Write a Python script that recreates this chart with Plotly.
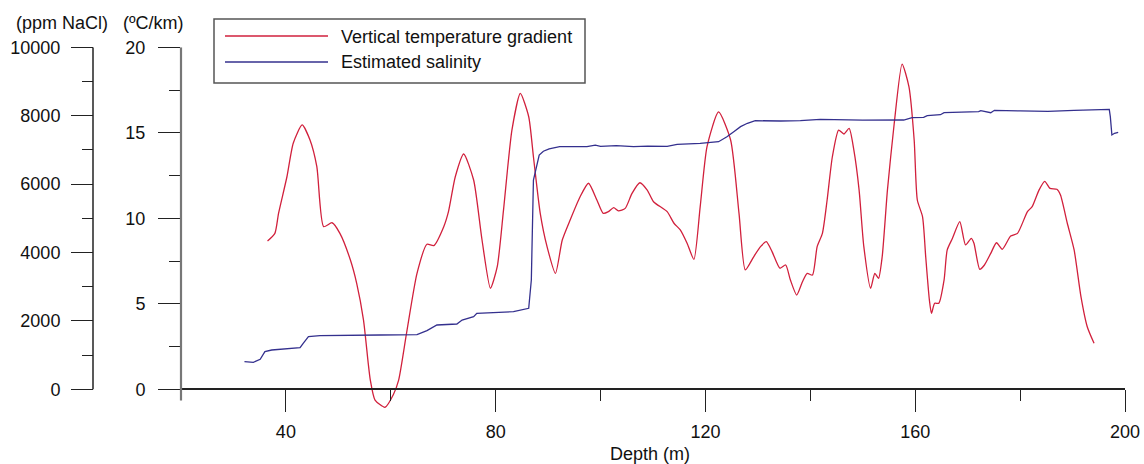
import plotly.graph_objects as go

# ---------------- data ----------------
grad_depth = [36.5, 37.9, 38.6, 40.2, 41.4, 43.1, 44.6, 45.9, 47.2, 48.8, 50.3, 52.3, 53.5, 54.8,
              55.7, 56.1, 57.0, 58.9, 60.5, 61.5, 63.0, 65.0, 66.9, 68.2, 70.1, 71.0, 72.3, 73.9,
              75.8, 77.4, 79.0, 80.3, 81.5, 83.1, 84.7, 86.3, 87.2, 88.5, 89.8, 91.4, 92.7, 94.2,
              96.1, 97.7, 99.3, 100.5, 101.5, 102.5, 103.4, 104.7, 106.0, 107.5, 108.9, 110.1,
              112.7, 114.0, 115.2, 116.5, 117.8, 119.0, 120.3, 122.5, 124.8, 126.4, 127.6, 129.2,
              130.5, 131.6, 132.7, 134.2, 135.3, 136.2, 137.4, 138.5, 139.4, 140.4, 141.3, 142.3,
              143.2, 144.2, 145.4, 146.4, 147.4, 148.3, 149.3, 150.2, 151.5, 152.3, 153.0, 153.7,
              154.7, 156.0, 157.5, 158.8, 159.8, 160.4, 161.4, 162.0, 162.7, 163.1, 163.7, 164.5,
              165.5, 166.1, 167.1, 168.5, 169.6, 170.7, 171.2, 172.3, 173.2, 174.4, 175.5, 176.6,
              178.2, 179.5, 181.4, 182.3, 183.6, 184.7, 185.7, 187.0, 187.7, 189.0, 190.3, 191.6,
              192.8, 194.1]
grad_value = [8.67, 9.12, 10.29, 12.43, 14.39, 15.46, 14.58, 13.02, 9.51, 9.74, 9.12, 7.56, 6.2, 4.05,
              1.52, 0.54, -0.63, -1.05, -0.3, 0.54, 3.27, 6.78, 8.48, 8.4, 9.51, 10.39, 12.43, 13.76,
              12.24, 8.73, 5.91, 7.17, 10.49, 15.16, 17.3, 15.94, 13.6, 10.29, 8.34, 6.78, 8.73, 9.9,
              11.26, 12.05, 11.07, 10.29, 10.39, 10.62, 10.44, 10.58, 11.46, 12.08, 11.65, 10.97,
              10.39, 9.71, 9.32, 8.54, 7.6, 10.68, 14.19, 16.22, 14.58, 10.29, 6.98, 7.75,
              8.34, 8.63, 8.05, 7.08, 7.27, 6.39, 5.51, 6.29, 6.78, 6.68, 8.34, 9.12,
              11.07, 13.6, 15.16, 14.93, 15.26, 13.99, 11.65, 8.34, 5.91, 6.78, 6.49, 7.75,
              11.65, 15.56, 19.02, 17.7, 14.58, 11.07, 10.09, 7.75, 5.22, 4.44, 5.03, 5.03,
              6.39, 8.15, 8.83, 9.8, 8.44, 8.83, 8.54, 7.02, 7.27, 7.95, 8.57, 8.19,
              8.96, 9.12, 10.39, 10.68, 11.65, 12.16, 11.75, 11.7, 11.36, 9.71, 8.15, 5.42,
              3.66, 2.69]

sal_depth = [32.1, 33.8, 35.1, 36.0, 37.3, 42.7, 43.3, 44.3, 46.5, 50.3, 58.0, 65.0, 66.9, 68.8,
             72.6, 73.6, 75.8, 76.4, 83.4, 86.3, 86.8, 87.2, 88.3, 89.1, 90.2, 92.2, 97.4, 99.0,
             100.0, 103.0, 106.3, 109.0, 112.7, 114.6, 119.0, 122.5, 124.1, 125.4, 126.7, 128.0,
             129.5, 134.3, 138.1, 141.9, 150.0, 157.8, 159.4, 161.6, 162.3, 164.8, 165.5, 172.1,
             172.5, 174.4, 175.1, 180.0, 185.3, 190.3, 197.0, 197.2, 197.5, 198.0, 198.7]
sal_value = [807, 790, 877, 1100, 1149, 1216, 1345, 1538, 1567, 1567, 1588, 1597, 1714, 1880,
             1909, 2026, 2123, 2222, 2269, 2368, 3196, 6120, 6851, 6960, 7030, 7094, 7094, 7140,
             7105, 7125, 7094, 7110, 7105, 7164, 7193, 7240, 7386, 7532, 7679, 7778,
             7854, 7845, 7854, 7895, 7870, 7874, 7942, 7953, 8000, 8029, 8088, 8117,
             8146, 8088, 8158, 8140, 8129, 8158, 8187, 7971, 7436, 7485, 7515]

x_ticks = [40, 80, 120, 160, 200]
x_minor = [60, 100, 140, 180]
grad_ticks = [0, 5, 10, 15, 20]
sal_ticks = [0, 2000, 4000, 6000, 8000, 10000]
sal_labels = ["0", "2000", "4000", "6000", "8000", "10000"]

# ---------------- layout helpers ----------------
W, H = 1144, 464
def px(x):
    return x / W
def py(y):
    return 1 - y / H

FONT = "Liberation Sans, Arial, sans-serif"
RED = "#d1203c"
BLUE = "#34308e"

Y_MIN, Y_MAX = -1.3, 20
y_top_px = 47.3
y_zero_px = 389.3
ppu = (y_zero_px - y_top_px) / 20.0
y_bot_px = y_zero_px - Y_MIN * ppu

fig = go.Figure()
fig.add_trace(go.Scatter(x=grad_depth, y=grad_value, mode="lines",
                         line=dict(color=RED, width=1.3, shape="spline", smoothing=0.6),
                         name="Vertical temperature gradient", showlegend=False))
fig.add_trace(go.Scatter(x=sal_depth, y=sal_value, mode="lines", yaxis="y2",
                         line=dict(color=BLUE, width=1.3),
                         name="Estimated salinity", showlegend=False))

fig.update_layout(
    width=W, height=H,
    margin=dict(l=0, r=0, t=0, b=0, autoexpand=False),
    paper_bgcolor="white", plot_bgcolor="white",
    font=dict(family=FONT, size=18, color="#111"),
    xaxis=dict(domain=[px(181), px(1125)], range=[20, 200], anchor="free",
               position=py(y_zero_px), showline=True, linecolor="#222", linewidth=1.5,
               tickmode="array", tickvals=x_ticks, ticks="outside", ticklen=22,
               tickcolor="#222", tickwidth=1.3, ticklabelstandoff=4,
               minor=dict(tickmode="array", tickvals=x_minor, ticks="outside", ticklen=11,
                          tickcolor="#222", tickwidth=1.3),
               showgrid=False, zeroline=False,
               tickfont=dict(family=FONT, size=18, color="#111")),
    yaxis=dict(domain=[py(y_bot_px), py(y_top_px)], range=[Y_MIN, Y_MAX],
               anchor="x", showline=False, showgrid=False, zeroline=False,
               tickmode="array", tickvals=grad_ticks, ticks="outside", ticklen=22,
               tickcolor="#222", tickwidth=1.3, ticklabelstandoff=9,
               minor=dict(dtick=2.5, tick0=0, ticks="outside", ticklen=11,
                          tickcolor="#222", tickwidth=1.3),
               tickfont=dict(family=FONT, size=18, color="#111")),
    yaxis2=dict(overlaying="y", anchor="free", position=px(93), side="left",
                range=[Y_MIN * 500, Y_MAX * 500], showline=False, showgrid=False,
                zeroline=False, tickmode="array", tickvals=sal_ticks, ticktext=sal_labels,
                ticks="outside", ticklen=22, tickcolor="#222", tickwidth=1.3,
                ticklabelstandoff=7,
                minor=dict(dtick=1000, tick0=0, ticks="outside", ticklen=11,
                           tickcolor="#222", tickwidth=1.3),
                tickfont=dict(family=FONT, size=18, color="#111")),
)

shapes = [
    # temperature axis line (grey, extends slightly below the depth axis)
    dict(type="line", xref="paper", yref="y", x0=px(181), x1=px(181), y0=-0.66, y1=20,
         line=dict(color="#777", width=2.2)),
    # salinity axis line
    dict(type="line", xref="paper", yref="y", x0=px(93), x1=px(93), y0=0, y1=20,
         line=dict(color="#222", width=1.5)),
    # legend box
    dict(type="rect", xref="paper", yref="paper", x0=px(214), x1=px(585), y0=py(83), y1=py(19),
         line=dict(color="#555", width=1.5), fillcolor="white", layer="below"),
    dict(type="line", xref="paper", yref="paper", x0=px(225), x1=px(328), y0=py(36), y1=py(36),
         line=dict(color=RED, width=1.3)),
    dict(type="line", xref="paper", yref="paper", x0=px(225), x1=px(328), y0=py(62), y1=py(62),
         line=dict(color=BLUE, width=1.3)),
]

annotations = [
    dict(text="Vertical temperature gradient", xref="paper", yref="paper", x=px(339), y=py(37),
         xanchor="left", yanchor="middle", showarrow=False, font=dict(family=FONT, size=18, color="#111")),
    dict(text="Estimated salinity", xref="paper", yref="paper", x=px(339), y=py(62),
         xanchor="left", yanchor="middle", showarrow=False, font=dict(family=FONT, size=18, color="#111")),
    dict(text="(ppm NaCl)", xref="paper", yref="paper", x=px(62), y=py(23),
         xanchor="center", yanchor="middle", showarrow=False, font=dict(family=FONT, size=18, color="#111")),
    dict(text="(ºC/km)", xref="paper", yref="paper", x=px(153), y=py(23),
         xanchor="center", yanchor="middle", showarrow=False, font=dict(family=FONT, size=18, color="#111")),
    dict(text="Depth (m)", xref="paper", yref="paper", x=px(650), y=py(454),
         xanchor="center", yanchor="middle", showarrow=False, font=dict(family=FONT, size=18, color="#111")),
]

fig.update_layout(shapes=shapes, annotations=annotations)
fig.write_html("out.html")
